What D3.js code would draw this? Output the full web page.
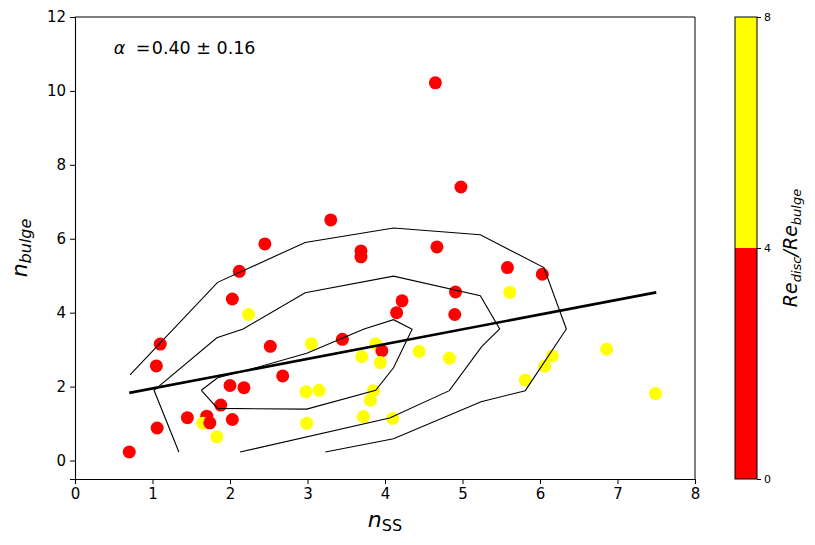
<!DOCTYPE html>
<html>
<head>
<meta charset="utf-8">
<script src="https://cdn.jsdelivr.net/npm/d3@7"></script>
<style>
  body { margin: 0; background: #fff; }
  text { font-family: "DejaVu Sans", sans-serif; }
</style>
</head>
<body>
<div id="chart"></div>
<script>
// galaxies: n_SS, n_bulge, and whether Re_disc/Re_bulge is above 4 (1) or below (0)
var nSS = [0.70, 1.06, 1.05, 1.10, 1.45, 1.70, 1.65, 1.74, 1.83, 1.88, 2.00, 2.03, 2.18, 2.03, 2.12,
           2.24, 2.45, 2.52, 2.68, 2.98, 3.15, 2.99, 3.05, 3.30, 3.45, 3.69, 3.69, 3.70, 3.88, 3.96,
           3.94, 3.85, 3.81, 3.72, 4.10, 4.67, 5.58, 6.03, 5.61, 4.22, 4.15, 4.91, 4.90, 4.44, 4.83,
           6.16, 6.06, 5.81, 6.86, 7.49, 4.65, 4.98];
var nBulge = [0.23, 0.88, 2.56, 3.15, 1.16, 1.20, 1.01, 1.02, 0.64, 1.50, 2.03, 1.11, 1.97, 4.37, 5.12,
              3.95, 5.86, 3.09, 2.29, 1.86, 1.90, 1.01, 3.16, 6.51, 3.28, 5.67, 5.51, 2.81, 3.16, 2.97,
              2.65, 1.89, 1.63, 1.19, 1.14, 5.78, 5.22, 5.04, 4.55, 4.32, 4.00, 4.56, 3.95, 2.95, 2.77,
              2.83, 2.55, 2.18, 3.01, 1.81, 10.22, 7.40];
var reHigh = [0, 0, 0, 0, 0, 0, 1, 0, 1, 0, 0, 0, 0, 0, 0,
              1, 0, 0, 0, 1, 1, 1, 1, 0, 0, 0, 0, 1, 1, 0,
              1, 1, 1, 1, 1, 0, 0, 0, 1, 0, 0, 0, 0, 1, 1,
              1, 1, 1, 1, 1, 0, 0];

// density contours (open where they run off the sample)
var contourOuter = [[0.71, 2.32], [1.84, 4.82], [2.97, 5.90], [4.11, 6.29], [5.23, 6.11], [6.05, 5.22],
                    [6.34, 3.56], [5.81, 1.89], [5.24, 1.59], [4.11, 0.59], [3.23, 0.23]];
var contourMid = [[1.34, 0.23], [1.02, 1.90], [1.83, 3.32], [2.17, 3.56], [2.97, 4.54], [4.11, 4.99],
                  [5.23, 4.46], [5.48, 3.56], [5.25, 3.09], [4.83, 1.89], [4.06, 1.15], [2.13, 0.23]];
var contourInner = [[1.63, 1.90], [1.84, 2.24], [2.18, 2.42], [2.99, 2.90], [3.73, 3.56], [4.11, 3.81],
                    [4.35, 3.55], [4.11, 2.51], [3.88, 1.90], [2.99, 1.39], [1.84, 1.41], [1.63, 1.90]];

// fitted relation end points
var fitLine = [[0.70, 1.83], [7.50, 4.55]];
var fitLabel = "0.40 \u00b1 0.16";

var xTicks = [0, 1, 2, 3, 4, 5, 6, 7, 8];
var yTicks = [0, 2, 4, 6, 8, 10, 12];
var cbTicks = [0, 4, 8];

var W = 815, H = 545;
var margin = {top: 17, left: 75};
var width = 620, height = 462;

var svg = d3.select("#chart").append("svg")
  .attr("width", W).attr("height", H);

var g = svg.append("g")
  .attr("transform", "translate(" + margin.left + "," + margin.top + ")");

var x = d3.scaleLinear().domain([0, 8]).range([0, width]);
var y = d3.scaleLinear().domain([-0.5, 12]).range([height, 0]);
var color = d3.scaleOrdinal().domain([0, 1]).range(["#ff0000", "#ffff00"]);

var line = d3.line().x(function(d){ return x(d[0]); }).y(function(d){ return y(d[1]); });

// points
var pts = nSS.map(function(v, i){ return {x: v, y: nBulge[i], c: reHigh[i]}; });
g.selectAll("circle.pt")
  .data(pts)
  .enter()
  .append("circle")
  .attr("class", "pt")
  .attr("cx", function(d){ return x(d.x); })
  .attr("cy", function(d){ return y(d.y); })
  .attr("r", 6.5)
  .attr("fill", function(d){ return color(d.c); });

// contours
[contourOuter, contourMid, contourInner].forEach(function(c){
  g.append("path")
    .attr("d", line(c))
    .attr("fill", "none")
    .attr("stroke", "#000")
    .attr("stroke-width", 1.1);
});

// fit
g.append("path")
  .attr("d", line(fitLine))
  .attr("fill", "none")
  .attr("stroke", "#000")
  .attr("stroke-width", 2.6);

// axes
var xAxis = g.append("g")
  .attr("transform", "translate(0," + height + ")")
  .call(d3.axisBottom(x).tickValues(xTicks).tickSize(5).tickPadding(4));
var yAxis = g.append("g")
  .call(d3.axisLeft(y).tickValues(yTicks).tickSize(5).tickPadding(4));
g.append("line").attr("x1", width).attr("x2", width).attr("y1", 0).attr("y2", height).attr("stroke", "#000");
g.append("line").attr("x1", 0).attr("x2", width).attr("y1", 0).attr("y2", 0).attr("stroke", "#000");

[xAxis, yAxis].forEach(function(a){
  a.select(".domain").attr("stroke", "#000").attr("stroke-width", 1.1);
  a.selectAll(".tick line").attr("stroke", "#000");
  a.selectAll(".tick text").attr("font-size", 15).attr("fill", "#000")
    .attr("font-family", "DejaVu Sans");
});

// alpha annotation
var annX = x(0.5), annY = y(11.0);
var ann = g.append("text")
  .attr("y", annY)
  .attr("font-size", 17.5);
ann.append("tspan").attr("x", annX).attr("font-style", "italic").text("\u03b1");
ann.append("tspan").attr("x", annX + 22).text("=");
ann.append("tspan").attr("x", annX + 38).text(fitLabel);

// axis labels
var xl = svg.append("text")
  .attr("x", margin.left + width / 2)
  .attr("y", 527)
  .attr("text-anchor", "middle")
  .attr("font-size", 22);
xl.append("tspan").attr("font-style", "italic").text("n");
xl.append("tspan").attr("font-size", 16).attr("dy", 4).text("SS");

var yl = svg.append("text")
  .attr("transform", "translate(27," + (margin.top + height / 2) + ") rotate(-90)")
  .attr("text-anchor", "middle")
  .attr("font-size", 22);
yl.append("tspan").attr("font-style", "italic").text("n");
yl.append("tspan").attr("font-style", "italic").attr("font-size", 16).attr("dy", 4).text("bulge");

// colorbar
var cbX = 735, cbW = 22;
var cb = d3.scaleLinear().domain([0, 8]).range([margin.top + height, margin.top]);
var cbG = svg.append("g");
cbG.selectAll("rect.seg")
  .data([[0, 4], [4, 8]])
  .enter()
  .append("rect")
  .attr("x", cbX)
  .attr("y", function(d){ return cb(d[1]); })
  .attr("width", cbW)
  .attr("height", function(d){ return cb(d[0]) - cb(d[1]); })
  .attr("fill", function(d, i){ return color(i); });
cbG.append("rect")
  .attr("x", cbX).attr("y", cb(8)).attr("width", cbW).attr("height", cb(0) - cb(8))
  .attr("fill", "none").attr("stroke", "#000").attr("stroke-width", 1);
var cbAxis = svg.append("g")
  .attr("transform", "translate(" + (cbX + cbW) + ",0)")
  .call(d3.axisRight(cb).tickValues(cbTicks).tickSize(4).tickPadding(3));
cbAxis.select(".domain").remove();
cbAxis.selectAll(".tick line").attr("stroke", "#000");
cbAxis.selectAll(".tick text").attr("font-size", 11).attr("fill", "#000").attr("font-family", "DejaVu Sans");

var cl = svg.append("text")
  .attr("transform", "translate(797," + cb(4) + ") rotate(-90)")
  .attr("text-anchor", "middle")
  .attr("font-size", 19);
cl.append("tspan").attr("font-style", "italic").text("Re");
cl.append("tspan").attr("font-style", "italic").attr("font-size", 13).attr("dy", 4).text("disc");
cl.append("tspan").attr("font-style", "italic").attr("dy", -4).text("/Re");
cl.append("tspan").attr("font-style", "italic").attr("font-size", 13).attr("dy", 4).text("bulge");
</script>
</body>
</html>
